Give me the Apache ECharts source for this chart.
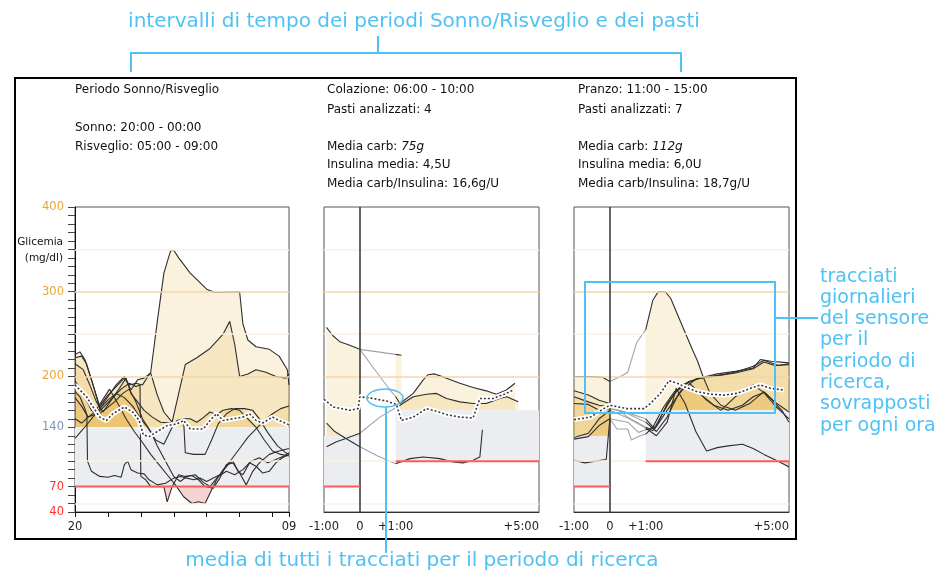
<!DOCTYPE html>
<html>
<head>
<meta charset="utf-8">
<script src="https://cdn.jsdelivr.net/npm/echarts@6/dist/echarts.min.js"></script>
<style>
html,body{margin:0;padding:0;background:#fff}
#chart{width:941px;height:572px}
</style>
</head>
<body>
<div id="chart"></div>
<script>
// sleep/wake period, hours after 20:00, glucose mg/dl
var sleepTraces = [
	[[0,226],[0.3,229],[0.6,220],[1.0,196],[1.5,165],[2.0,178],[2.5,188],[3.0,198],[3.3,190],[3.7,192],[4.1,190],[4.6,205],[5.0,265],[5.4,322],[5.8,348],[6.0,349],[6.3,340],[7.0,322],[8.0,303],[8.5,299],[10.0,300],[10.2,262],[10.5,243],[11.0,235],[11.8,232],[12.4,224],[12.9,208],[13,190]],
	[[0,222],[0.4,224],[0.7,215],[1.1,190],[1.5,162],[2.0,176],[2.5,190],[3.0,200],[3.4,184],[3.8,196],[4.2,198],[4.6,204],[5.0,178],[5.4,158],[5.9,146],[6.3,180],[6.7,214],[7.4,222],[8.2,233],[9.0,250],[9.4,265],[9.7,238],[10.0,200],[10.5,203],[11.0,208],[11.6,205],[12.2,200],[12.8,198],[13,203]],
	[[0,215],[0.5,208],[0.9,190],[1.3,170],[1.7,158],[2.2,172],[2.7,186],[3.1,198],[3.4,180],[3.8,170],[4.2,160],[4.7,152],[5.2,146],[5.8,145],[6.2,146],[6.6,148],[6.7,110],[7.2,108],[7.9,108],[8.3,125],[8.7,144],[9.2,156],[9.7,162],[10.3,162],[10.8,160],[11.2,150],[11.7,134],[12.3,118],[12.8,110],[13,108]],
	[[0,182],[0.3,176],[0.6,162],[0.72,155],[0.76,100],[1.0,88],[1.5,82],[2.0,81],[2.4,83],[2.8,81],[3.0,96],[3.2,100],[3.4,90],[3.8,86],[4.2,85],[4.5,78],[5.0,72],[5.5,74],[6.0,80],[6.4,82],[6.8,80],[7.2,78],[7.6,80],[8.0,76],[8.4,80],[8.8,84],[9.3,96],[9.6,100],[9.9,88],[10.2,84],[10.6,98],[11.0,94],[11.4,86],[11.8,88],[12.2,98],[12.6,104],[13,108]],
	[[0,175],[0.4,165],[0.8,152],[1.3,156],[1.8,165],[2.3,175],[2.8,185],[3.3,192],[3.7,188],[3.95,190],[4.0,82],[4.3,78],[4.6,70],[5.0,70],[5.4,70],[5.6,52],[5.9,70],[6.3,84],[6.7,82],[7.1,83],[7.5,78],[7.9,70],[8.4,68],[8.8,80],[9.2,96],[9.6,98],[10.0,86],[10.4,72],[10.8,88],[11.2,98],[11.8,108],[12.4,112],[13,115]],
	[[0,150],[0.4,145],[0.8,152],[1.2,158],[1.6,170],[2.1,185],[2.6,168],[3.1,150],[3.6,135],[4.1,122],[4.6,108],[5.1,96],[5.6,84],[6.1,72],[6.6,58],[7.1,50],[7.5,52],[7.9,50],[8.2,62],[8.6,78],[9.0,90],[9.5,102],[10.0,115],[10.5,128],[11.0,138],[11.5,148],[12.0,156],[12.5,162],[13,165]],
	[[0,127],[0.5,138],[1.0,150],[1.5,162],[2.0,172],[2.5,180],[3.0,175],[3.5,165],[4.0,150],[4.4,140],[4.9,125],[5.4,120],[5.9,140],[6.2,148],[6.6,150],[7.0,150],[7.4,146],[7.7,150],[8.2,158],[8.6,155],[9.0,160],[9.5,162],[10.0,160],[10.5,150],[11.0,140],[11.5,125],[12.0,112],[12.5,108],[13,106]],
	[[0,195],[0.5,180],[1.0,160],[1.4,155],[1.9,162],[2.4,170],[2.9,180],[3.3,185],[3.7,170],[4.1,150],[4.6,135],[5.0,118],[5.5,100],[6.0,82],[6.4,76],[6.8,82],[7.3,84],[7.8,75],[8.2,70],[8.7,82],[9.2,88],[9.7,84],[10.2,90],[10.7,100],[11.2,104],[11.7,98],[12.2,102],[12.7,106],[13,110]]
];
var sleepMean = [[0,190],[0.7,176],[1.5,152],[1.9,148],[2.3,156],[3.0,164],[3.5,158],[3.9,148],[4.15,131],[4.5,129],[5.0,135],[5.6,142],[6.2,144],[6.6,148],[7.0,138],[7.8,138],[8.2,148],[8.6,156],[9.0,148],[9.6,150],[10.2,152],[10.6,156],[11.0,148],[11.4,145],[12.0,152],[12.4,148],[13,143]];

// breakfast, hours from meal
var breakfastTraces = [
	[[-0.93,258],[-0.75,248],[-0.56,241],[-0.3,237],[0,232],[0.47,205],[0.84,184],[1,176],[1.12,168],[1.49,180],[1.77,196],[1.9,202],[2.09,203],[2.42,198],[2.79,192],[3.16,187],[3.53,183],[3.81,179],[4.09,184],[4.33,192]],
	[[0,232],[0.5,229],[1,226],[1.16,225]],
	[[-0.93,145],[-0.7,135],[-0.4,127],[-0.2,122],[0,117],[0.5,106],[1,97],[1.4,103],[1.77,105],[2.23,103],[2.6,99],[2.88,98],[3.16,101],[3.35,105],[3.42,137]],
	[[-0.93,117],[-0.65,123],[-0.37,127],[0,133],[0.56,152],[1,163],[1.12,166],[1.49,176],[1.86,179],[2.14,180],[2.42,174],[2.79,170],[3.16,168],[3.53,168],[3.9,174],[4.1,176],[4.42,170]]
];
var breakfastMean = [[-1,173],[-0.74,164],[-0.28,160],[-0.05,162],[0,176],[0.37,174],[0.74,171],[1.02,167],[1.16,148],[1.49,152],[1.86,162],[2.05,160],[2.42,155],[2.79,152],[3.16,151],[3.35,174],[3.72,174],[4.09,180],[4.28,184]];

// lunch
var lunchTraces = [
	[[-1,200],[-0.6,200],[-0.2,199],[0,194],[0.3,200],[0.5,205],[0.75,240],[1,255],[1.2,290],[1.35,300],[1.55,300],[1.7,292],[2.0,262],[2.3,232],[2.45,218],[2.6,200],[2.8,180],[3.1,166],[3.5,160],[3.9,168],[4.3,182],[4.6,170],[5.0,158]],
	[[-1,183],[-0.6,178],[-0.3,172],[0,168],[0.5,152],[1,140],[1.2,136],[1.5,158],[1.8,180],[2.2,194],[2.6,199],[3.0,203],[3.5,206],[4.0,210],[4.2,220],[4.5,218],[5.0,216]],
	[[-1,176],[-0.6,170],[-0.3,166],[0,164],[0.5,157],[1,150],[1.25,138],[1.6,160],[2.0,183],[2.4,197],[3.0,201],[3.5,204],[4.0,209],[4.3,217],[4.6,213],[5.0,214]],
	[[-1,168],[-0.6,167],[-0.3,160],[0,162],[0.4,158],[1,146],[1.3,135],[1.6,152],[1.9,178],[2.1,190],[2.5,180],[2.9,166],[3.3,160],[3.7,166],[4.0,176],[4.3,181],[4.6,166],[5.0,150]],
	[[-1,128],[-0.6,133],[-0.3,150],[0,160],[0.5,151],[1,139],[1.3,130],[1.6,146],[1.85,186],[2.1,168],[2.4,135],[2.7,112],[3.0,116],[3.3,118],[3.7,120],[4.0,115],[4.3,108],[4.7,100],[5.0,93]],
	[[-1,101],[-0.7,98],[-0.4,100],[-0.1,102],[0,150],[0.5,146],[0.8,134],[1,137],[1.3,141],[1.6,168],[2.0,190],[2.5,198],[3.0,201],[3.5,205],[4.0,212],[4.3,219],[4.7,213],[5.0,215]],
	[[-1,126],[-0.6,129],[-0.3,142],[0,150],[0.2,138],[0.5,138],[0.6,125],[0.85,130],[1,132],[1.2,140],[1.5,164],[1.8,182],[2.2,193],[2.7,172],[3.1,160],[3.5,176],[4.0,190],[4.4,178],[4.8,160],[5.0,146]]
];
var lunchMean = [[-1,149],[-0.54,152],[-0.17,162],[0,166],[0.48,162],[0.95,162],[1.13,168],[1.41,180],[1.65,195],[1.88,192],[2.07,188],[2.44,182],[2.81,179],[3.18,178],[3.55,180],[3.93,186],[4.2,190],[4.48,186],[4.86,184]];

// targets [low, high]
var sleepTarget = [70, 140];
var preMealTarget = [70, 130];
var postMealTarget = [100, 160];
var sleepRange = [0, 13];
var preWindow = [-1, 0];
var postWindow = [1, 5];

var yLabels = [400, 300, 200, 140, 70, 40];
var gridValues = [50, 100, 200, 250, 300, 350];
var sleepTickValues = [0, 13];
var sleepTickLabels = ['20', '09'];
var mealTickValues = [-1, 0, 1, 5];
var mealTickLabels = ['-1:00', '0', '+1:00', '+5:00'];

var GOLD = 'rgba(228,176,58,0.17)';
var PINK = 'rgba(222,110,110,0.3)';
var CLEAR = 'rgba(255,255,255,0)';
var BLUE = '#4fc1f4';
var FONT = 'DejaVu Sans';

var chart = echarts.init(document.getElementById('chart'));

var series = [];
var vmSleep = [], vmPre = [], vmPost = [];

function background(gi, bands, reds) {
	series.push({
		type: 'line', xAxisIndex: gi, yAxisIndex: gi, data: [], z: 1, silent: true,
		markArea: {silent: true, itemStyle: {color: '#ebedf0'}, data: bands}
	});
	series.push({
		type: 'line', xAxisIndex: gi, yAxisIndex: gi, data: [], z: 2, silent: true,
		markLine: {
			silent: true, symbol: 'none', label: {show: false},
			data: gridValues.map(function(v){
				var strong = v == 200 || v == 300;
				return {yAxis: v, lineStyle: {type: 'solid', width: 1.5, color: strong ? '#f5d6a8' : '#fcefe2'}};
			})
		}
	});
	// red low limits sit above the grid lines
	for (var i = 0; i < reds.length; i++) {
		series.push({
			type: 'line', xAxisIndex: gi, yAxisIndex: gi, data: reds[i], z: 5.5, silent: true,
			symbol: 'none', lineStyle: {color: '#ff5a5a', width: 2}
		});
	}
}

function traceSeries(gi, pts, color, origin) {
	var s = {
		type: 'line', xAxisIndex: gi, yAxisIndex: gi, data: pts, z: 4, silent: true,
		symbol: 'none', lineStyle: {color: color, width: 1.1}
	};
	if (origin != null) s.areaStyle = {origin: origin, opacity: 1};
	series.push(s);
	return series.length - 1;
}

function addSleepTrace(pts) {
	vmSleep.push(traceSeries(0, pts, '#2e2e2e', sleepTarget[1]));
}

function addMealTrace(gi, pts) {
	var pre = pts.filter(function(p){ return p[0] <= preWindow[1]; });
	var mid = pts.filter(function(p){ return p[0] >= preWindow[1] && p[0] <= postWindow[0]; });
	var post = pts.filter(function(p){ return p[0] >= postWindow[0]; });
	if (pre.length > 1) vmPre.push(traceSeries(gi, pre, '#2e2e2e', preMealTarget[1]));
	if (mid.length > 1) traceSeries(gi, mid, '#a3a3a3', null);
	if (post.length > 1) vmPost.push(traceSeries(gi, post, '#2e2e2e', postMealTarget[1]));
}

function addMean(gi, pts) {
	series.push({type: 'line', xAxisIndex: gi, yAxisIndex: gi, data: pts, z: 6, silent: true,
		symbol: 'none', lineStyle: {color: '#fff', width: 5}});
	series.push({type: 'line', xAxisIndex: gi, yAxisIndex: gi, data: pts, z: 7, silent: true,
		symbol: 'none', lineStyle: {color: '#3a3a3a', width: 1.6, type: [2, 2]}});
}

function zeroLine(gi) {
	series.push({
		type: 'line', xAxisIndex: gi, yAxisIndex: gi, data: [], z: 5, silent: true,
		markLine: {silent: true, symbol: 'none', label: {show: false},
			data: [{xAxis: 0, lineStyle: {type: 'solid', color: '#333', width: 1.5}}]}
	});
}

// panel 0: sleep
background(0, [[{yAxis: sleepTarget[1]}, {yAxis: sleepTarget[0]}]],
	[[[sleepRange[0], sleepTarget[0]], [sleepRange[1], sleepTarget[0]]]]);
sleepTraces.forEach(addSleepTrace);
addMean(0, sleepMean);

// panels 1,2: meals
[[1, breakfastTraces, breakfastMean], [2, lunchTraces, lunchMean]].forEach(function(m){
	var gi = m[0];
	background(gi, [
		[{coord: [preWindow[0], preMealTarget[1]]}, {coord: [preWindow[1], preMealTarget[0]]}],
		[{coord: [postWindow[0], postMealTarget[1]]}, {coord: [postWindow[1], postMealTarget[0]]}]
	], [
		[[preWindow[0], preMealTarget[0]], [preWindow[1], preMealTarget[0]]],
		[[postWindow[0], postMealTarget[0]], [postWindow[1], postMealTarget[0]]]
	]);
	m[1].forEach(function(t){ addMealTrace(gi, t); });
	zeroLine(gi);
	addMean(gi, m[2]);
});

function pieces(t) {
	return [{lt: t[0], color: PINK}, {gte: t[0], lt: t[1], color: CLEAR}, {gte: t[1], color: GOLD}];
}

function yLabelColor(v) {
	if (v >= 200) return '#e8a535';
	if (v == 140) return '#8193b6';
	return '#ff2e2e';
}

function tickLabel(values, labels) {
	return function(v){
		var i = values.indexOf(v);
		return i >= 0 ? labels[i] : '';
	};
}

var grids = [75, 324, 574].map(function(l){
	return {left: l, top: 207, width: 215, height: 305, show: true, backgroundColor: '#fff',
		borderColor: '#555', borderWidth: 1, containLabel: false, outerBoundsMode: 'none'};
});
grids[0].width = 214;

var xAxes = [{
	gridIndex: 0, type: 'value', min: sleepRange[0], max: sleepRange[1], interval: 2,
	axisLine: {show: true, onZero: false, lineStyle: {color: '#111'}},
	axisTick: {show: true, length: 5, lineStyle: {color: '#111'}},
	splitLine: {show: false},
	axisLabel: {formatter: tickLabel(sleepTickValues, sleepTickLabels), showMinLabel: true, showMaxLabel: true,
		fontSize: 11.5, color: '#222', margin: 9, fontFamily: FONT}
}];
[1, 2].forEach(function(gi){
	xAxes.push({
		gridIndex: gi, type: 'value', min: -1, max: 5, interval: 1,
		axisLine: {show: true, onZero: false, lineStyle: {color: '#333'}},
		axisTick: {show: false}, splitLine: {show: false},
		axisLabel: {formatter: tickLabel(mealTickValues, mealTickLabels), showMinLabel: true, showMaxLabel: true,
			alignMaxLabel: 'right', fontSize: 11.5, color: '#222', margin: 9, fontFamily: FONT}
	});
});

var yAxes = [{
	gridIndex: 0, type: 'value', min: 40, max: 400, interval: 10,
	axisLine: {show: true, lineStyle: {color: '#111'}},
	axisTick: {show: true, length: 7, lineStyle: {color: '#444'}},
	splitLine: {show: false},
	axisLabel: {formatter: function(v){ return yLabels.indexOf(v) >= 0 ? String(v) : ''; },
		color: yLabelColor, fontSize: 11.5, margin: 11, fontFamily: FONT}
}];
[1, 2].forEach(function(gi){
	yAxes.push({gridIndex: gi, type: 'value', min: 40, max: 400, interval: 10, show: false});
});

function headText(x, y, txt, rich) {
	var st = {text: txt, x: x, y: y, fill: '#111', font: '12px ' + FONT, textVerticalAlign: 'middle'};
	if (rich) st.rich = {n: {fontSize: 12, fontFamily: FONT, fill: '#111'}, i: {fontSize: 12, fontFamily: FONT, fontStyle: 'italic', fill: '#111'}};
	return {type: 'text', z: 100, style: st};
}

var headers = [
	headText(75, 90, 'Periodo Sonno/Risveglio'),
	headText(75, 128, 'Sonno: 20:00 - 00:00'),
	headText(75, 147, 'Risveglio: 05:00 - 09:00'),
	headText(327, 90, 'Colazione: 06:00 - 10:00'),
	headText(327, 110, 'Pasti analizzati: 4'),
	headText(327, 147, '{n|Media carb: }{i|75g}', true),
	headText(327, 165, 'Insulina media: 4,5U'),
	headText(327, 184, 'Media carb/Insulina: 16,6g/U'),
	headText(578, 90, 'Pranzo: 11:00 - 15:00'),
	headText(578, 110, 'Pasti analizzati: 7'),
	headText(578, 147, '{n|Media carb: }{i|112g}', true),
	headText(578, 165, 'Insulina media: 6,0U'),
	headText(578, 184, 'Media carb/Insulina: 18,7g/U')
];

var annotations = [
	{type: 'rect', z: 90, shape: {x: 15, y: 78, width: 781, height: 461}, style: {fill: 'none', stroke: '#000', lineWidth: 2}},
	{type: 'text', z: 100, style: {text: 'Glicemia', x: 63, y: 242, textAlign: 'right', textVerticalAlign: 'middle', font: '10.5px ' + FONT, fill: '#111'}},
	{type: 'text', z: 100, style: {text: '(mg/dl)', x: 63, y: 258, textAlign: 'right', textVerticalAlign: 'middle', font: '10.5px ' + FONT, fill: '#111'}},
	// top bracket
	{type: 'text', z: 100, style: {text: 'intervalli di tempo dei periodi Sonno/Risveglio e dei pasti', x: 414, y: 22,
		textAlign: 'center', textVerticalAlign: 'middle', font: '20px ' + FONT, fill: BLUE}},
	{type: 'polyline', z: 100, shape: {points: [[131, 72], [131, 53], [681, 53], [681, 72]]}, style: {fill: 'none', stroke: BLUE, lineWidth: 2}},
	{type: 'line', z: 100, shape: {x1: 378, y1: 36, x2: 378, y2: 53}, style: {stroke: BLUE, lineWidth: 2}},
	// right callout
	{type: 'rect', z: 100, shape: {x: 585, y: 282, width: 190, height: 131}, style: {fill: 'none', stroke: BLUE, lineWidth: 2}},
	{type: 'line', z: 100, shape: {x1: 775, y1: 318, x2: 818, y2: 318}, style: {stroke: BLUE, lineWidth: 2}},
	{type: 'text', z: 100, style: {text: ['tracciati', 'giornalieri', 'del sensore', 'per il', 'periodo di', 'ricerca,', 'sovrapposti', 'per ogni ora'].join('\n'),
		x: 820, y: 266, lineHeight: 21.3, font: '19px ' + FONT, fill: BLUE}},
	// bottom callout
	{type: 'ellipse', z: 100, shape: {cx: 385, cy: 398, rx: 18, ry: 9}, style: {fill: 'none', stroke: BLUE, lineWidth: 1.5}},
	{type: 'line', z: 100, shape: {x1: 386, y1: 407, x2: 386, y2: 553}, style: {stroke: BLUE, lineWidth: 2}},
	{type: 'text', z: 100, style: {text: 'media di tutti i tracciati per il periodo di ricerca', x: 422, y: 561,
		textAlign: 'center', textVerticalAlign: 'middle', font: '20px ' + FONT, fill: BLUE}}
];

chart.setOption({
	backgroundColor: '#fff',
	animation: false,
	textStyle: {fontFamily: FONT},
	grid: grids,
	xAxis: xAxes,
	yAxis: yAxes,
	visualMap: [
		{type: 'piecewise', show: false, dimension: 1, seriesIndex: vmSleep, pieces: pieces(sleepTarget)},
		{type: 'piecewise', show: false, dimension: 1, seriesIndex: vmPre, pieces: pieces(preMealTarget)},
		{type: 'piecewise', show: false, dimension: 1, seriesIndex: vmPost, pieces: pieces(postMealTarget)}
	],
	series: series,
	graphic: {elements: headers.concat(annotations)}
});
</script>
</body>
</html>
